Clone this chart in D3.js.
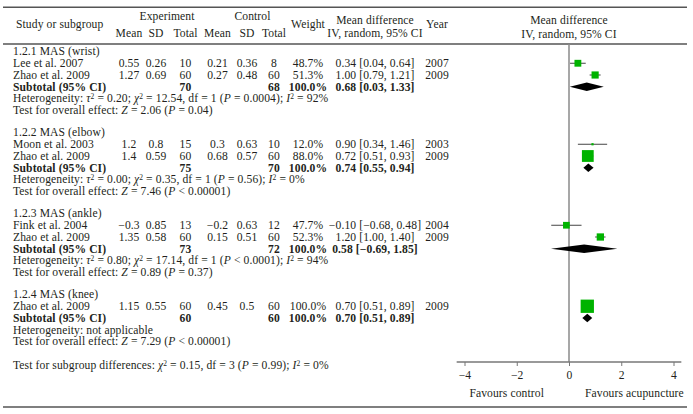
<!DOCTYPE html>
<html>
<head>
<meta charset="utf-8">
<script src="https://cdn.jsdelivr.net/npm/d3@7"></script>
<style>
body { margin: 0; background: #fff; }
svg text { font-family: "Liberation Serif", "Times New Roman", serif; font-size: 11.6px; letter-spacing: 0.1px; fill: #231f20; }
.b { font-weight: bold; }
</style>
</head>
<body>
<div id="chart"></div>
<script>
// forest plot data
const groupNames = ['1.2.1 MAS (wrist)', '1.2.2 MAS (elbow)', '1.2.3 MAS (ankle)', '1.2.4 MAS (knee)'];
const studyNames = ['Lee et al. 2007', 'Zhao et al. 2009', 'Moon et al. 2003', 'Zhao et al. 2009',
                    'Fink et al. 2004', 'Zhao et al. 2009', 'Zhao et al. 2009'];
const studyGroup = [0, 0, 1, 1, 2, 2, 3];
const expMean = [0.55, 1.27, 1.2, 1.4, -0.3, 1.35, 1.15];
const expSD = [0.26, 0.69, 0.8, 0.59, 0.85, 0.58, 0.55];
const expN = [10, 60, 15, 60, 13, 60, 60];
const ctlMean = [0.21, 0.27, 0.3, 0.68, -0.2, 0.15, 0.45];
const ctlSD = [0.36, 0.48, 0.63, 0.57, 0.63, 0.51, 0.5];
const ctlN = [8, 60, 10, 60, 12, 60, 60];
const weight = [48.7, 51.3, 12.0, 88.0, 47.7, 52.3, 100.0];
const md = [0.34, 1.00, 0.90, 0.72, -0.10, 1.20, 0.70];
const mdLo = [0.04, 0.79, 0.34, 0.51, -0.68, 1.00, 0.51];
const mdHi = [0.64, 1.21, 1.46, 0.93, 0.48, 1.40, 0.89];
const year = [2007, 2009, 2003, 2009, 2004, 2009, 2009];

const subExpN = [70, 75, 73, 60];
const subCtlN = [68, 70, 72, 60];
const subMd = [0.68, 0.74, 0.58, 0.70];
const subLo = [0.03, 0.55, -0.69, 0.51];
const subHi = [1.33, 0.94, 1.85, 0.89];

const hetTau = ['0.20', '0.00', '0.80', null];
const hetChi = ['12.54', '0.35', '17.14', null];
const hetP = ['= 0.0004', '= 0.56', '< 0.0001', null];
const hetI2 = ['92%', '0%', '94%', null];
const effZ = ['2.06', '7.46', '0.89', '7.29'];
const effP = ['= 0.04', '< 0.00001', '= 0.37', '< 0.00001'];

const xTicks = [-4, -2, 0, 2, 4];

const W = 693, H = 414;
const rowStep = 11.75, groupStep = 81;
const green = '#00b300';

const svg = d3.select('#chart').append('svg')
  .attr('width', W)
  .attr('height', H);

const minus = s => String(s).replace(/-/g, '\u2212');
const f2 = d3.format('.2f');
const ci = (m, lo, hi) => minus(f2(m) + ' [' + f2(lo) + ', ' + f2(hi) + ']');

// y: line number -> baseline
const y = d3.scaleLinear().domain([0, 1]).range([55.3, 55.3 + rowStep]);
const line = (g, k) => g * groupStep / rowStep + k;
const mid = 3.8;

// forest x scale
const x = d3.scaleLinear().domain([-4, 4]).range([464.5, 673.5]);
const size = d3.scaleLinear().domain([0, 100]).range([0.7, 13.3]);

// table columns
const col = { label: 13, expMean: 129, expSD: 156, expN: 185.5, ctlMean: 217.5, ctlSD: 247, ctlN: 274,
              weight: 308, md: 375, year: 437 };

function txt(px, py, s, anchor, cls) {
  return svg.append('text')
    .attr('x', px).attr('y', py)
    .attr('text-anchor', anchor || 'middle')
    .attr('class', cls || null)
    .text(s);
}

// rich text: parts = [text, style] style 'i' italic, 's' superscript
function rich(px, py, parts) {
  const t = svg.append('text').attr('x', px).attr('y', py);
  let up = false;
  parts.forEach(([s, st]) => {
    const sp = t.append('tspan').text(s);
    if (st === 'i') sp.attr('font-style', 'italic');
    if (st === 's') { sp.attr('dy', -3.6).attr('font-size', '7.5px'); up = true; }
    else if (up) { sp.attr('dy', 3.6); up = false; }
  });
  return t;
}

// rules
[7.3, 44, 407].forEach(ry => {
  svg.append('line')
    .attr('x1', 3).attr('x2', 687).attr('y1', ry).attr('y2', ry)
    .attr('stroke', '#555').attr('stroke-width', 1.5);
});

// headers
txt(16, 28, 'Study or subgroup', 'start');
txt(167, 20, 'Experiment');
txt(252.5, 20, 'Control');
[['Mean', col.expMean], ['SD', col.expSD], ['Total', col.expN],
 ['Mean', col.ctlMean], ['SD', col.ctlSD], ['Total', col.ctlN]].forEach(([s, cx]) => txt(cx, 37, s));
txt(col.weight, 28, 'Weight');
txt(col.md, 24, 'Mean difference');
txt(col.md, 37, 'IV, random, 95% CI');
txt(col.year, 28, 'Year');
txt(x(0), 24, 'Mean difference');
txt(x(0), 37.5, 'IV, random, 95% CI');

// zero line
svg.append('line')
  .attr('x1', x(0)).attr('x2', x(0))
  .attr('y1', 44).attr('y2', 362)
  .attr('stroke', '#8a8a8a').attr('stroke-width', 1.5);

// groups
groupNames.forEach((gname, g) => {
  txt(col.label, y(line(g, 0)), gname, 'start');
  const idx = studyGroup.map((sg, i) => sg === g ? i : -1).filter(i => i >= 0);
  idx.forEach((i, k) => {
    const by = y(line(g, k + 1));
    txt(col.label, by, studyNames[i], 'start');
    txt(col.expMean, by, minus(expMean[i]));
    txt(col.expSD, by, expSD[i]);
    txt(col.expN, by, expN[i]);
    txt(col.ctlMean, by, minus(ctlMean[i]));
    txt(col.ctlSD, by, ctlSD[i]);
    txt(col.ctlN, by, ctlN[i]);
    txt(col.weight, by, weight[i].toFixed(1) + '%');
    txt(col.md, by, ci(md[i], mdLo[i], mdHi[i]));
    txt(col.year, by, year[i]);

    const cy = by - mid;
    svg.append('line')
      .attr('x1', x(mdLo[i])).attr('x2', x(mdHi[i]))
      .attr('y1', cy).attr('y2', cy)
      .attr('stroke', '#444').attr('stroke-width', 1);
    const s = size(weight[i]);
    svg.append('rect')
      .attr('x', x(md[i]) - s / 2).attr('y', cy - s / 2)
      .attr('width', s).attr('height', s)
      .attr('fill', green);
  });

  const k = idx.length + 1;
  const sy = y(line(g, k));
  txt(col.label, sy, 'Subtotal (95% CI)', 'start', 'b');
  txt(col.expN, sy, subExpN[g], 'middle', 'b');
  txt(col.ctlN, sy, subCtlN[g], 'middle', 'b');
  txt(col.weight, sy, '100.0%', 'middle', 'b');
  txt(col.md, sy, ci(subMd[g], subLo[g], subHi[g]), 'middle', 'b');

  const dy = sy - mid;
  svg.append('polygon')
    .attr('points', [[x(subLo[g]), dy], [x(subMd[g]), dy - 4.2], [x(subHi[g]), dy], [x(subMd[g]), dy + 4.2]]
      .map(p => p.join(',')).join(' '))
    .attr('fill', '#000');

  const hy = y(line(g, k + 1));
  if (hetTau[g] === null) {
    txt(col.label, hy, 'Heterogeneity: not applicable', 'start');
  } else {
    rich(col.label, hy, [['Heterogeneity: '], ['\u03c4', 'i'], ['2', 's'], [' = ' + hetTau[g] + '; '],
      ['\u03c7', 'i'], ['2', 's'], [' = ' + hetChi[g] + ', df = 1 ('], ['P', 'i'], [' ' + hetP[g] + '); '],
      ['I', 'i'], ['2', 's'], [' = ' + hetI2[g]]]);
  }
  rich(col.label, y(line(g, k + 2)), [['Test for overall effect: '], ['Z', 'i'], [' = ' + effZ[g] + ' ('],
    ['P', 'i'], [' ' + effP[g] + ')']]);
});

rich(col.label, y(line(3, 4) + 2.05), [['Test for subgroup differences: '], ['\u03c7', 'i'], ['2', 's'],
  [' = 0.15, df = 3 ('], ['P', 'i'], [' = 0.99); '], ['I', 'i'], ['2', 's'], [' = 0%']]);

// forest axis
const axisY = 362;
svg.append('line')
  .attr('x1', x(-4.3)).attr('x2', x(4.3))
  .attr('y1', axisY).attr('y2', axisY)
  .attr('stroke', '#777').attr('stroke-width', 1.3);
const ax = svg.append('g')
  .attr('transform', 'translate(0,' + axisY + ')')
  .call(d3.axisBottom(x).tickValues(xTicks).tickSize(4).tickPadding(5)
    .tickFormat(d => d < 0 ? '\u2212' + Math.abs(d) : d));
ax.select('.domain').remove();
ax.selectAll('line').attr('stroke', '#777');
ax.selectAll('text').attr('font-family', null).attr('font-size', null).attr('fill', '#231f20');

txt(x(0) - 25, 397, 'Favours control', 'end');
txt(x(0) + 16, 397, 'Favours acupuncture', 'start');
</script>
</body>
</html>
